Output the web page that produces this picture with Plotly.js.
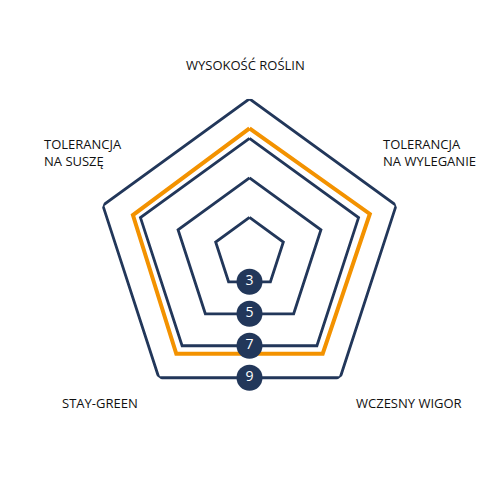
<!DOCTYPE html>
<html>
<head>
<meta charset="utf-8">
<script src="https://cdn.plot.ly/plotly-3.0.1.min.js"></script>
<style>
  body { margin: 0; background: #fff; }
  #chart { width: 500px; height: 500px; }
</style>
</head>
<body>
<div id="chart"></div>
<script>
// axes of the radar, clockwise from the top
const categories = ['WYSOKOŚĆ ROŚLIN', 'TOLERANCJA<br>NA WYLEGANIE', 'WCZESNY WIGOR', 'STAY-GREEN', 'TOLERANCJA<br>NA SUSZĘ'];
// scale rings with their badges
const levels = [3, 5, 7, 9];
// the product's scores
const scores = [7.5, 7.6, 7.5, 7.5, 7.4];

const navy = '#22375a';
const orange = '#f39200';
const rMin = 1.2, rMax = 9;

let step = 360 / categories.length;
let theta = categories.map((c, i) => i * step);
theta.push(0);

let traces = [];

// navy rings
for (let i = 0; i < levels.length; i++) {
    traces.push({
        type: 'scatterpolar',
        r: theta.map(() => levels[i]),
        theta: theta,
        mode: 'lines',
        line: {color: navy, width: 2.8},
        hoverinfo: 'skip'
    });
}

// orange scores
let closed = scores.slice();
closed.push(scores[0]);
traces.push({
    type: 'scatterpolar',
    r: closed,
    theta: theta,
    mode: 'lines',
    line: {color: orange, width: 4},
    hoverinfo: 'skip'
});

// badges sit on the middle of the bottom edge of each ring
let half = Math.cos(Math.PI / categories.length);
traces.push({
    type: 'scatterpolar',
    r: levels.map(v => rMin + (v - rMin) * half),
    theta: levels.map(() => 180),
    mode: 'markers+text',
    text: levels.map(String),
    textposition: 'middle center',
    textfont: {color: '#ffffff', size: 14, family: 'Open Sans'},
    marker: {color: navy, size: 26, line: {width: 0}},
    hoverinfo: 'skip',
    cliponaxis: false
});

// label placement in paper space
const labelPos = [
    {x: 245, y: 65, anchor: 'center'},
    {x: 381, y: 152, anchor: 'left'},
    {x: 354, y: 403, anchor: 'left'},
    {x: 100, y: 403, anchor: 'center'},
    {x: 42, y: 152, anchor: 'left'}
];

let annotations = categories.map((c, i) => ({
    text: c,
    xref: 'paper', yref: 'paper',
    x: labelPos[i].x / 500,
    y: 1 - labelPos[i].y / 500,
    xanchor: labelPos[i].anchor,
    yanchor: 'middle',
    align: 'left',
    showarrow: false,
    font: {family: 'Open Sans', size: 13, color: '#111111'}
}));

let layout = {
    width: 500,
    height: 500,
    margin: {l: 0, r: 0, t: 0, b: 0},
    paper_bgcolor: '#ffffff',
    showlegend: false,
    polar: {
        domain: {x: [0.1906, 0.8074], y: [0.1856, 0.8024]},
        bgcolor: 'rgba(0,0,0,0)',
        radialaxis: {range: [rMin, rMax], visible: false},
        angularaxis: {rotation: 90, direction: 'clockwise', visible: false}
    },
    annotations: annotations
};

Plotly.newPlot('chart', traces, layout, {staticPlot: true});
</script>
</body>
</html>
